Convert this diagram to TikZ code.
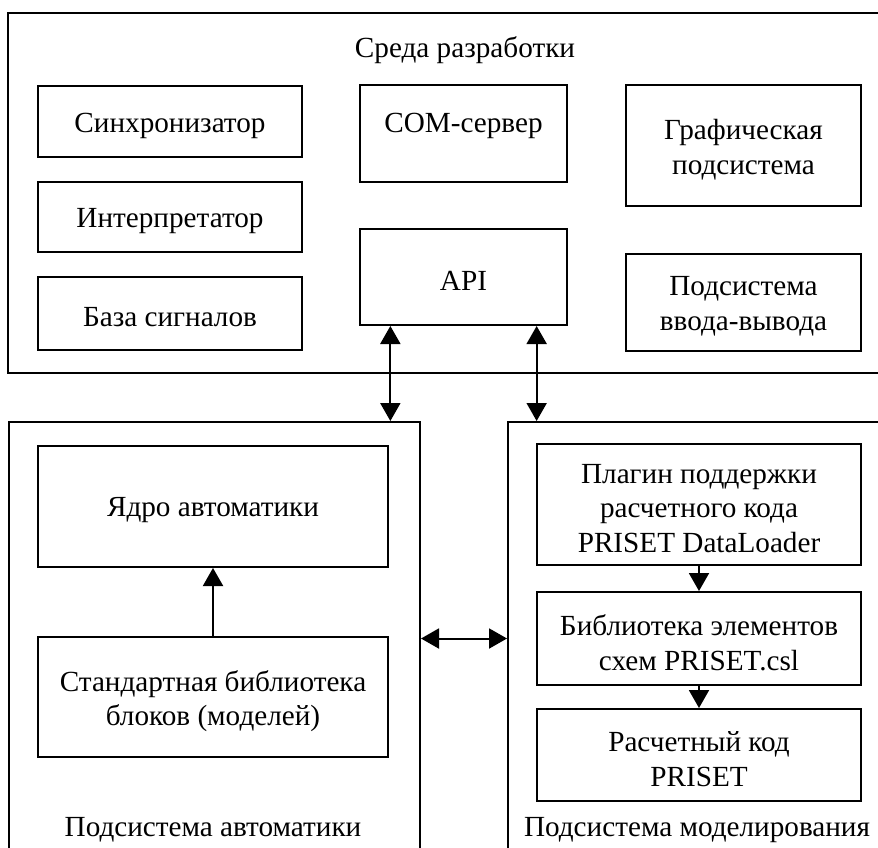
\documentclass[tikz,border=0pt]{standalone}
\usepackage{fontspec}
\setmainfont{Liberation Serif}
\usetikzlibrary{arrows.meta,calc}
\tikzset{
  txt/.style={inner sep=0pt,align=center,font=\fontsize{14.6}{17.3}\selectfont},
  box/.style={draw,line width=1pt,inner sep=0pt,label={[txt,yshift=-2pt]center:{#1}}},
  frame/.style={draw,line width=1pt,inner sep=0pt},
  conn/.style={line width=1pt,-{Triangle[length=9pt,width=10pt]}},
  dconn/.style={line width=1pt,{Triangle[length=9pt,width=10pt]}-{Triangle[length=9pt,width=10pt]}}
}
\begin{document}
\begin{tikzpicture}[x=0.5pt,y=-0.5pt]
\useasboundingbox (0,0) rectangle (878,847);
\clip (0,0) rectangle (878,847);
% containers
\node[frame,minimum width=446pt,minimum height=180pt] (top) at (454,193) {};
\node[frame,minimum width=205.5pt,minimum height=239pt] (leftc) at (214.5,661) {};
\node[frame,minimum width=196pt,minimum height=239pt] (rightc) at (704,661) {};
\node[txt,yshift=-1pt] (title) at (465,48) {Среда разработки};
% top boxes
\node[box={Синхронизатор},minimum width=132pt,minimum height=35.5pt] (sync) at (170,121.5) {};
\node[box={Интерпретатор},minimum width=132pt,minimum height=35pt] (interp) at (170,217) {};
\node[box={База сигналов},minimum width=132pt,minimum height=36.5pt] (base) at (170,313.5) {};
\node[draw,line width=1pt,inner sep=0pt,minimum width=103.5pt,minimum height=48.5pt,label={[txt,yshift=4pt]center:COM-сервер}] (com) at (463.5,133.5) {};
\node[box={API},minimum width=103.5pt,minimum height=48pt] (api) at (463.5,277) {};
\node[box={Графическая\\подсистема},minimum width=117.5pt,minimum height=60.5pt] (graph) at (743.5,145.5) {};
\node[box={Подсистема\\ввода-вывода},minimum width=117.5pt,minimum height=48.5pt] (io) at (743.5,302.5) {};
% bottom left
\node[box={Ядро автоматики},minimum width=175pt,minimum height=60.5pt] (kernel) at (213,506.5) {};
\node[box={Стандартная библиотека\\блоков (моделей)},minimum width=175pt,minimum height=60pt] (stdlib) at (213,697) {};
\node[txt,yshift=-1pt] (lblA) at (213,828) {Подсистема автоматики};
% bottom right
\node[box={Плагин поддержки\\расчетного кода\\PRISET DataLoader},minimum width=162pt,minimum height=60.5pt] (plugin) at (699,504.5) {};
\node[box={Библиотека элементов\\схем PRISET.csl},minimum width=162pt,minimum height=46.5pt] (libel) at (699,638.5) {};
\node[box={Расчетный код\\PRISET},minimum width=162pt,minimum height=46pt] (calc) at (699,755) {};
\node[txt,yshift=-1pt] (lblM) at (697,828) {Подсистема моделирования};
% connectors
\draw[conn] (stdlib.north) -- (kernel.south);
\draw[conn] (plugin.south) -- (libel.north);
\draw[conn] (libel.south) -- (calc.north);
\draw[dconn] (libel.west -| leftc.east) -- (libel.west -| rightc.west);
\coordinate (a1) at ($(api.south west)!0.15!(api.south east)$);
\coordinate (a2) at ($(api.south west)!0.85!(api.south east)$);
\draw[dconn] (a1) -- (a1 |- leftc.north);
\draw[dconn] (a2) -- (a2 |- rightc.north);
\end{tikzpicture}
\end{document}
